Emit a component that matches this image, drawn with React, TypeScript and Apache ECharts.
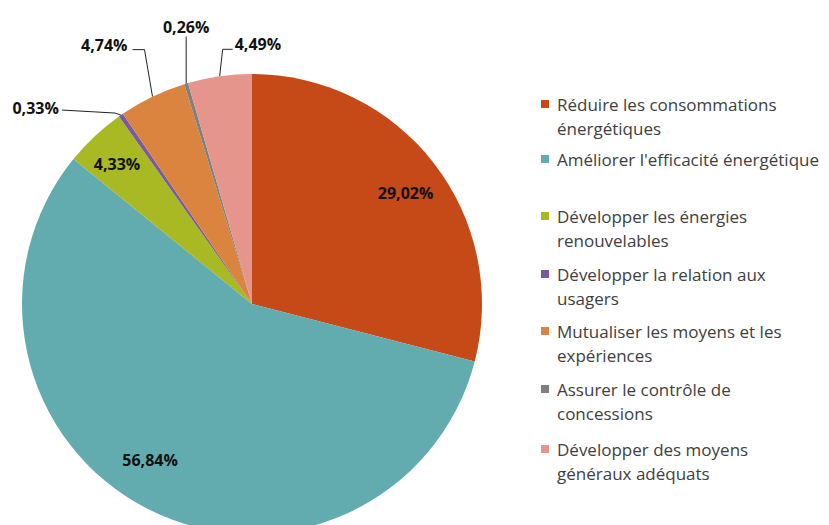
import React, { useEffect, useRef } from "react";
import * as echarts from "echarts";

const categories = [
  "Réduire les consommations énergétiques",
  "Améliorer l'efficacité énergétique",
  "Développer les énergies renouvelables",
  "Développer la relation aux usagers",
  "Mutualiser les moyens et les expériences",
  "Assurer le contrôle de concessions",
  "Développer des moyens généraux adéquats",
];
const legendLines = [
  ["Réduire les consommations", "énergétiques"],
  ["Améliorer l'efficacité énergétique"],
  ["Développer les énergies", "renouvelables"],
  ["Développer la relation aux", "usagers"],
  ["Mutualiser les moyens et les", "expériences"],
  ["Assurer le contrôle de", "concessions"],
  ["Développer des moyens", "généraux adéquats"],
];
const values = [29.02, 56.84, 4.33, 0.33, 4.74, 0.26, 4.49];
const valueLabels = ["29,02%", "56,84%", "4,33%", "0,33%", "4,74%", "0,26%", "4,49%"];
const colors = ["#C54A17", "#62ACB0", "#A9B923", "#7B5B9B", "#DA843F", "#7F7F7F", "#E5958B"];
const insideIdx = [0, 1, 2];

// leader-line offsets relative to the slice edge point computed by ECharts
const outOffsets: Record<number, { p1: [number, number]; p2: [number, number]; t: [number, number]; align: string }> = {
  3: { p1: [-6, -2], p2: [-59, -5], t: [-3, -2], align: "right" },
  4: { p1: [-8, -47], p2: [-20, -47], t: [-5, -5], align: "right" },
  5: { p1: [0, -47], p2: [0, -47], t: [0, -10], align: "center" },
  6: { p1: [3, -27], p2: [13, -27], t: [2, -5], align: "left" },
};
// nudges for the inside labels
const inShift: Record<number, [number, number]> = {
  0: [1, 7],
  1: [-15, -16],
  2: [-3, 1],
};

const legendCenters = [104, 159, 216, 274, 331, 389, 449];

export default function App() {
  const ref = useRef<HTMLDivElement>(null);
  useEffect(() => {
    if (!ref.current) return;
    const chart = echarts.init(ref.current, undefined, { renderer: "svg" });
    const labelFont = { fontFamily: "Open Sans", fontSize: 16, fontWeight: "bold" as const, color: "#111" };
    const center = [252, 304];
    const legends = categories.map((name, i) => {
      const two = legendLines[i].length > 1;
      return {
        orient: "vertical",
        left: 541,
        top: legendCenters[i] - (two ? 36 : 12),
        padding: 0,
        itemWidth: 8,
        itemHeight: 8,
        icon: "rect",
        selectedMode: false,
        data: [name],
        formatter: () => (two ? "\n" : "") + legendLines[i].join("\n"),
        textStyle: {
          fontFamily: "Open Sans",
          fontSize: 17,
          lineHeight: 24,
          color: "#404040",
          padding: [0, 0, 0, 3],
        },
      };
    });
    chart.setOption({
      animation: false,
      color: colors,
      legend: legends,
      series: [
        {
          type: "pie",
          center,
          radius: 230,
          startAngle: 90,
          clockwise: true,
          avoidLabelOverlap: false,
          minShowLabelAngle: 0,
          silent: true,
          itemStyle: { borderWidth: 0 },
          label: {
            show: true,
            position: "outside",
            formatter: (p: any) => valueLabels[p.dataIndex],
            ...labelFont,
          },
          labelLine: { show: true, length: 10, length2: 10, lineStyle: { color: "#222", width: 1 } },
          labelLayout: (params: any) => {
            const o = outOffsets[params.dataIndex];
            if (!o || !params.labelLinePoints) return {};
            const [x0, y0] = params.labelLinePoints[0];
            const p1 = [x0 + o.p1[0], y0 + o.p1[1]];
            const p2 = [x0 + o.p2[0], y0 + o.p2[1]];
            return {
              x: p2[0] + o.t[0],
              y: p2[1] + o.t[1],
              align: o.align,
              verticalAlign: "middle",
              labelLinePoints: [[x0, y0], p1, p2],
            };
          },
          data: categories.map((name, i) => ({
            name,
            value: values[i],
            label: { show: !insideIdx.includes(i) },
            labelLine: { show: !insideIdx.includes(i) },
          })),
        },
        {
          type: "pie",
          center,
          radius: [150, 230],
          startAngle: 90,
          clockwise: true,
          silent: true,
          avoidLabelOverlap: false,
          itemStyle: { color: "rgba(0,0,0,0)" },
          emphasis: { disabled: true },
          label: {
            show: true,
            position: "inside",
            formatter: (p: any) => valueLabels[p.dataIndex],
            ...labelFont,
          },
          labelLine: { show: false },
          labelLayout: (params: any) => {
            const s = inShift[params.dataIndex];
            return s ? { dx: s[0], dy: s[1] } : {};
          },
          data: categories.map((name, i) => ({
            name,
            value: values[i],
            label: { show: insideIdx.includes(i) },
          })),
        },
      ],
    });
    return () => chart.dispose();
  }, []);
  return (
    <div
      ref={ref}
      style={{ position: "fixed", left: 0, top: 0, width: 829, height: 525, background: "#fff" }}
    />
  );
}
